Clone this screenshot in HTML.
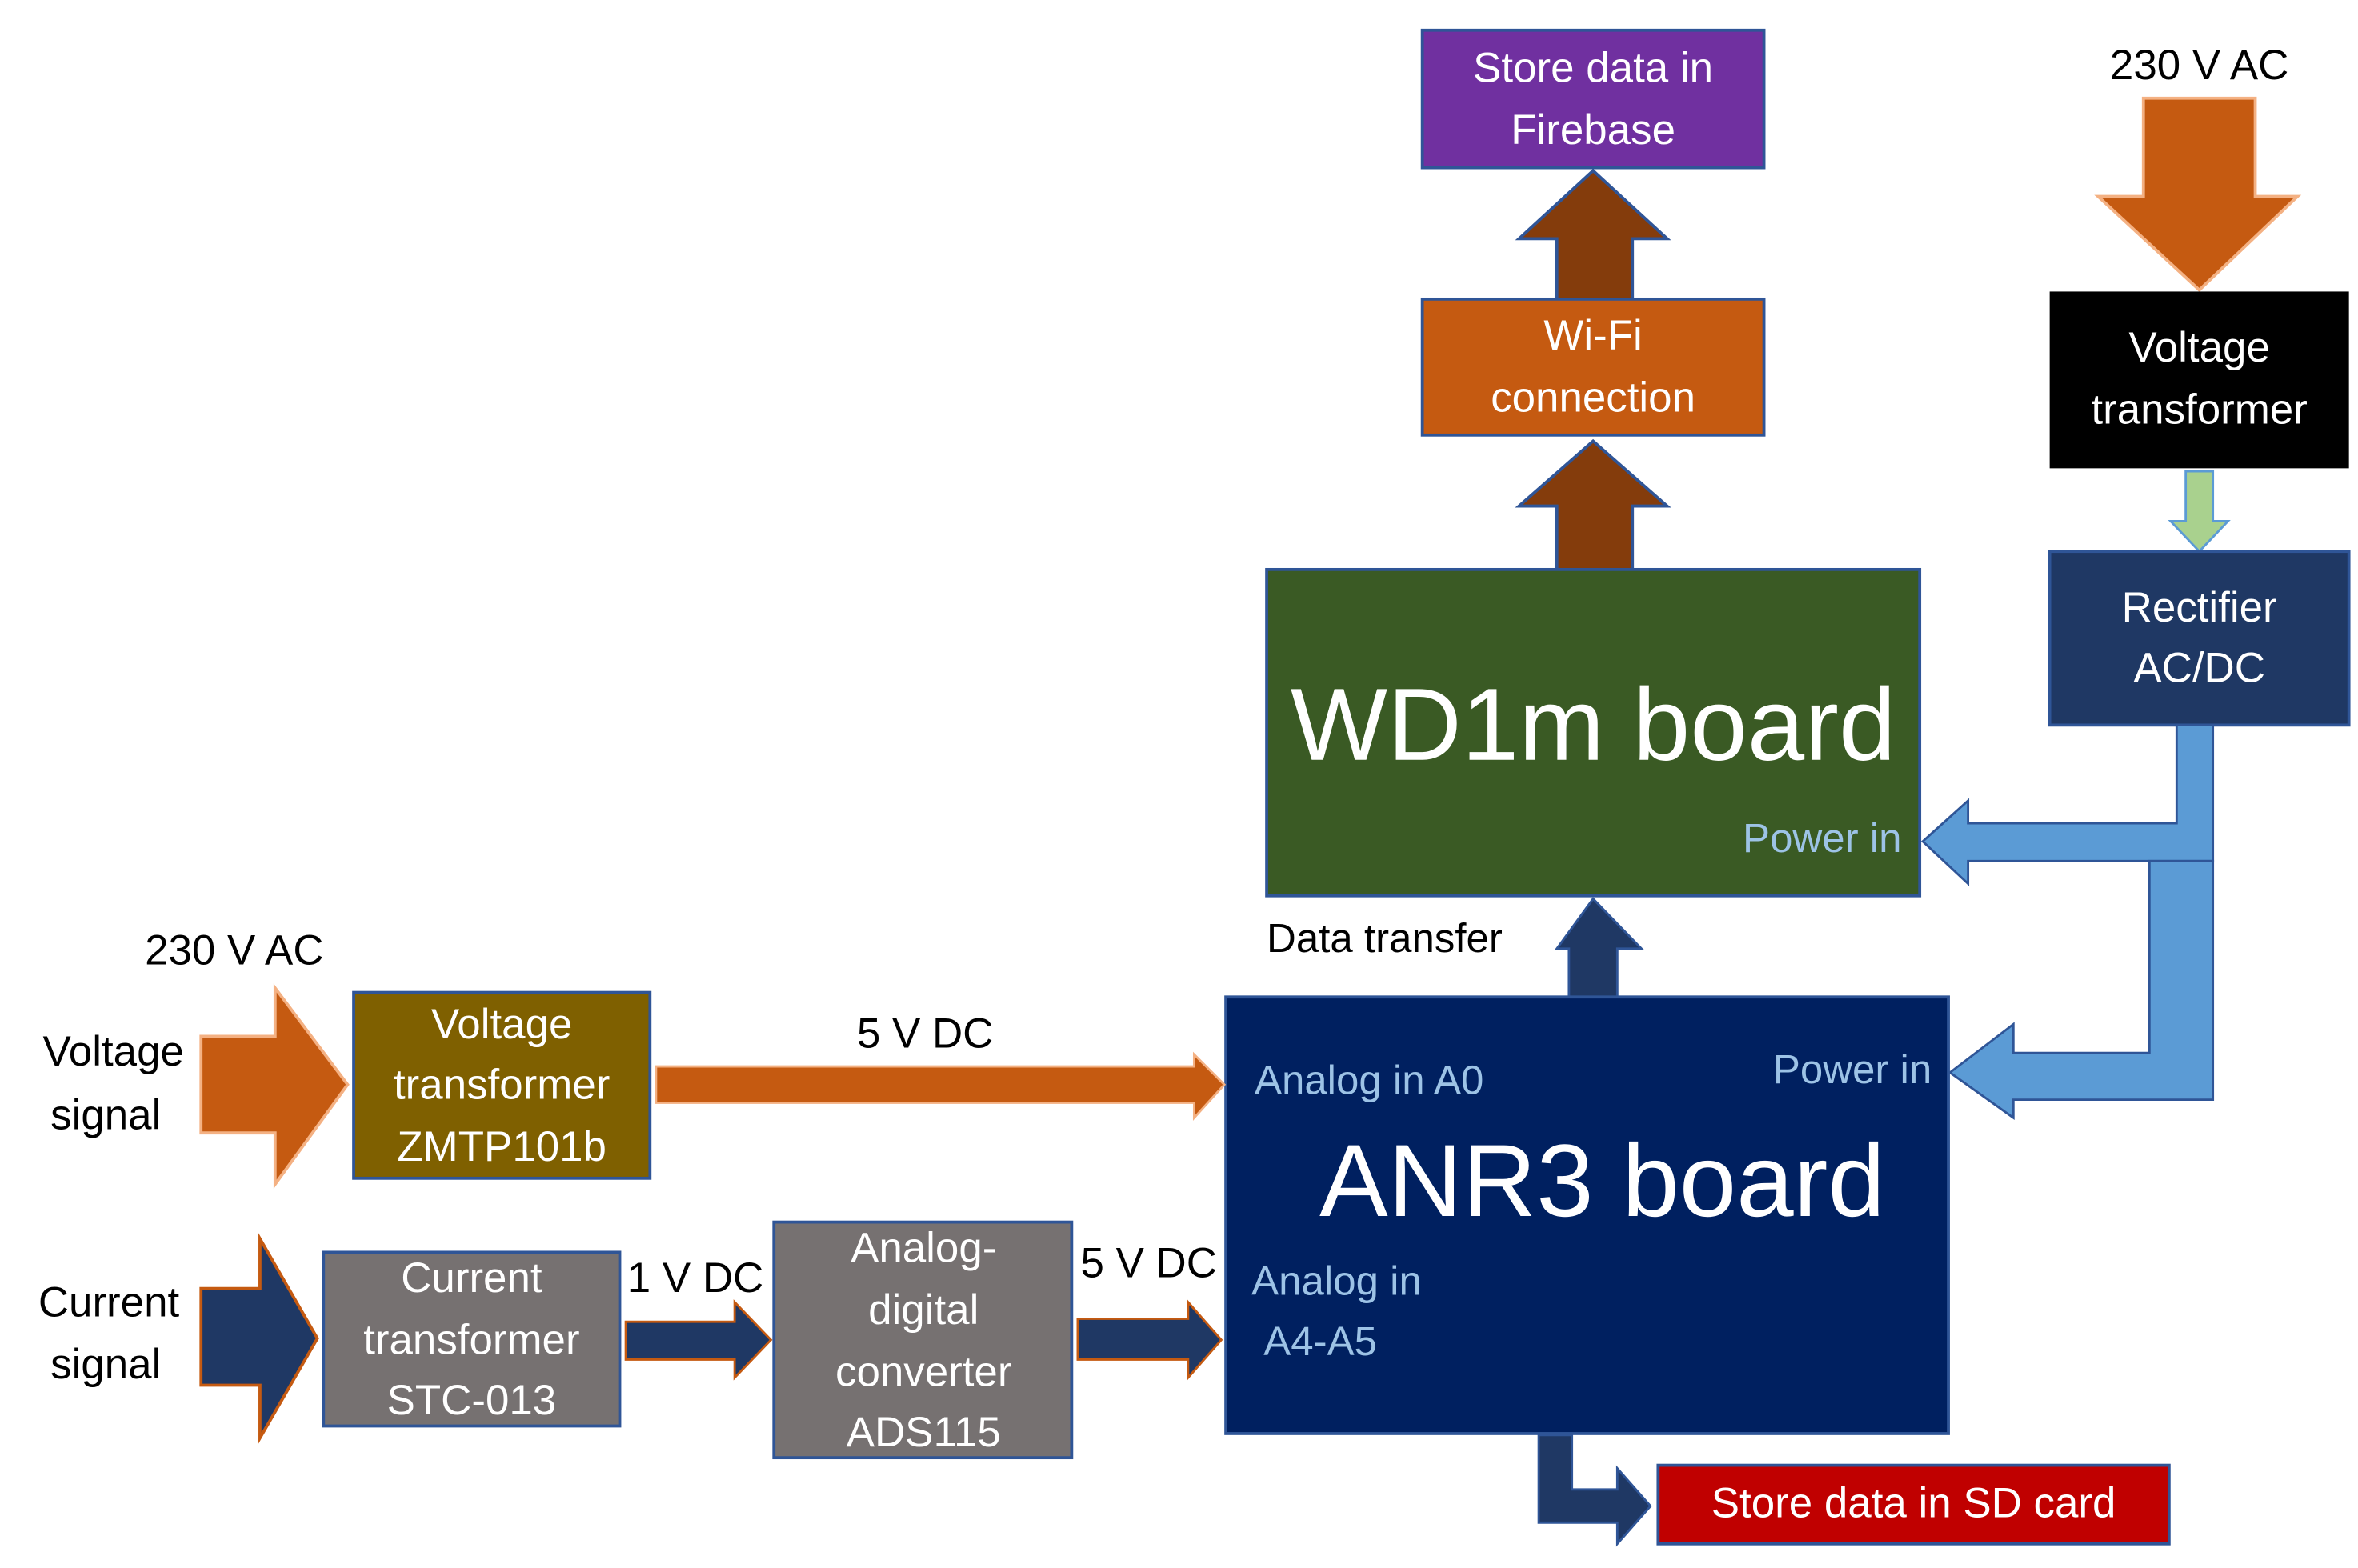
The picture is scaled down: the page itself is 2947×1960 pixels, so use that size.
<!DOCTYPE html>
<html><head><meta charset="utf-8"><style>
html,body{margin:0;padding:0;background:#fff;}
svg{display:block;}
text{font-family:"Liberation Sans",sans-serif;dominant-baseline:middle;}
</style></head><body>
<svg width="2947" height="1960" viewBox="0 0 1560 1038" preserveAspectRatio="none" xmlns="http://www.w3.org/2000/svg">
<rect width="1560" height="1038" fill="#fff"/>
<!-- Firebase -->
<rect x="941" y="20" width="226" height="91" fill="#7030a0" stroke="#2f5597" stroke-width="2"/>
<text x="1054" y="47" font-size="28" fill="#fff" text-anchor="middle">Store data in</text>
<text x="1054" y="88" font-size="28" fill="#fff" text-anchor="middle">Firebase</text>
<!-- brown up arrows -->
<polygon points="1030,198 1030,158 1005,158 1054,113 1103,158 1080,158 1080,198" fill="#843c0c" stroke="#2f5597" stroke-width="2"/>
<rect x="941" y="198" width="226" height="90" fill="#c55a11" stroke="#2f5597" stroke-width="2"/>
<text x="1054" y="224" font-size="28" fill="#fff" text-anchor="middle">Wi-Fi</text>
<text x="1054" y="265" font-size="28" fill="#fff" text-anchor="middle">connection</text>
<polygon points="1030,377 1030,335 1005,335 1054,292 1103,335 1080,335 1080,377" fill="#843c0c" stroke="#2f5597" stroke-width="2"/>
<!-- WD1m -->
<rect x="838" y="377" width="432" height="216" fill="#3a5a24" stroke="#2f5597" stroke-width="2"/>
<text x="1054" y="485" font-size="68" fill="#fff" text-anchor="middle">WD1m board</text>
<text x="1258" y="557" font-size="27" fill="#9dc3e6" text-anchor="end">Power in</text>
<!-- top right -->
<text x="1455" y="45" font-size="28" fill="#000" text-anchor="middle">230 V AC</text>
<polygon points="1418,65 1492,65 1492,130 1520,130 1455,192 1388,130 1418,130" fill="#c55a11" stroke="#f4b183" stroke-width="2"/>
<rect x="1356" y="193" width="198" height="117" fill="#000"/>
<text x="1455" y="232" font-size="28" fill="#fff" text-anchor="middle">Voltage</text>
<text x="1455" y="273" font-size="28" fill="#fff" text-anchor="middle">transformer</text>
<polygon points="1446,312 1464,312 1464,345 1474,345 1455,365 1436,345 1446,345" fill="#a9d18e" stroke="#5b9bd5" stroke-width="1.5"/>
<rect x="1356" y="365" width="198" height="115" fill="#1f3864" stroke="#2f5597" stroke-width="2"/>
<text x="1455" y="404" font-size="28" fill="#fff" text-anchor="middle">Rectifier</text>
<text x="1455" y="444" font-size="28" fill="#fff" text-anchor="middle">AC/DC</text>
<!-- light blue power pipes -->
<polygon points="1440,480 1464,480 1464,570 1302,570 1302,585 1272,557 1302,530 1302,545 1440,545" fill="#5b9bd5" stroke="#2f5597" stroke-width="1.5"/>
<polygon points="1422,570 1464,570 1464,728 1332,728 1332,740 1290,710 1332,678 1332,697 1422,697" fill="#5b9bd5" stroke="#2f5597" stroke-width="1.5"/>
<!-- data transfer -->
<polygon points="1038,660 1038,628 1030,628 1054,595 1086,628 1070,628 1070,660" fill="#1f3864" stroke="#2f5597" stroke-width="1.5"/>
<text x="838" y="623" font-size="27" fill="#000">Data transfer</text>
<!-- ANR3 -->
<rect x="811" y="660" width="478" height="289" fill="#002060" stroke="#2f5597" stroke-width="2"/>
<text x="1060" y="787" font-size="68" fill="#fff" text-anchor="middle">ANR3 board</text>
<text x="830" y="717" font-size="27" fill="#9dc3e6">Analog in A0</text>
<text x="1278" y="710" font-size="27" fill="#9dc3e6" text-anchor="end">Power in</text>
<text x="828" y="850" font-size="27" fill="#9dc3e6">Analog in</text>
<text x="836" y="890" font-size="27" fill="#9dc3e6">A4-A5</text>
<!-- SD -->
<polygon points="1018,950 1040,950 1040,986 1070,986 1070,972 1092,997 1070,1022 1070,1008 1018,1008" fill="#1f3864" stroke="#2f5597" stroke-width="1.5"/>
<rect x="1097" y="970" width="338" height="52" fill="#c00000" stroke="#2f5597" stroke-width="2"/>
<text x="1266" y="997" font-size="28" fill="#fff" text-anchor="middle">Store data in SD card</text>
<!-- left voltage -->
<text x="155" y="631" font-size="28" fill="#000" text-anchor="middle">230 V AC</text>
<text x="75" y="698" font-size="28" fill="#000" text-anchor="middle">Voltage</text>
<text x="70" y="740" font-size="28" fill="#000" text-anchor="middle">signal</text>
<polygon points="133,686 182,686 182,654 230,718 182,784 182,750 133,750" fill="#c55a11" stroke="#f4b183" stroke-width="2"/>
<rect x="234" y="657" width="196" height="123" fill="#7f6000" stroke="#2f5597" stroke-width="2"/>
<text x="332" y="680" font-size="28" fill="#fff" text-anchor="middle">Voltage</text>
<text x="332" y="720" font-size="28" fill="#fff" text-anchor="middle">transformer</text>
<text x="332" y="761" font-size="28" fill="#fff" text-anchor="middle">ZMTP101b</text>
<polygon points="434,706 790,706 790,698 810,718 790,740 790,730 434,730" fill="#c55a11" stroke="#f4b183" stroke-width="1.5"/>
<text x="612" y="686" font-size="28" fill="#000" text-anchor="middle">5 V DC</text>
<!-- current -->
<text x="72" y="864" font-size="28" fill="#000" text-anchor="middle">Current</text>
<text x="70" y="905" font-size="28" fill="#000" text-anchor="middle">signal</text>
<polygon points="133,853 172,853 172,820 210,886 172,952 172,917 133,917" fill="#1f3864" stroke="#c55a11" stroke-width="2"/>
<rect x="214" y="829" width="196" height="115" fill="#767171" stroke="#2f5597" stroke-width="2"/>
<text x="312" y="848" font-size="28" fill="#fff" text-anchor="middle">Current</text>
<text x="312" y="889" font-size="28" fill="#fff" text-anchor="middle">transformer</text>
<text x="312" y="929" font-size="28" fill="#fff" text-anchor="middle">STC-013</text>
<polygon points="414,875 486,875 486,862 510,887 486,912 486,900 414,900" fill="#1f3864" stroke="#c55a11" stroke-width="1.5"/>
<text x="460" y="848" font-size="28" fill="#000" text-anchor="middle">1 V DC</text>
<rect x="512" y="809" width="197" height="156" fill="#767171" stroke="#2f5597" stroke-width="2"/>
<text x="611" y="828" font-size="28" fill="#fff" text-anchor="middle">Analog-</text>
<text x="611" y="869" font-size="28" fill="#fff" text-anchor="middle">digital</text>
<text x="611" y="910" font-size="28" fill="#fff" text-anchor="middle">converter</text>
<text x="611" y="950" font-size="28" fill="#fff" text-anchor="middle">ADS115</text>
<polygon points="713,873 786,873 786,862 808,887 786,912 786,900 713,900" fill="#1f3864" stroke="#c55a11" stroke-width="1.5"/>
<text x="760" y="838" font-size="28" fill="#000" text-anchor="middle">5 V DC</text>
</svg>
</body></html>
